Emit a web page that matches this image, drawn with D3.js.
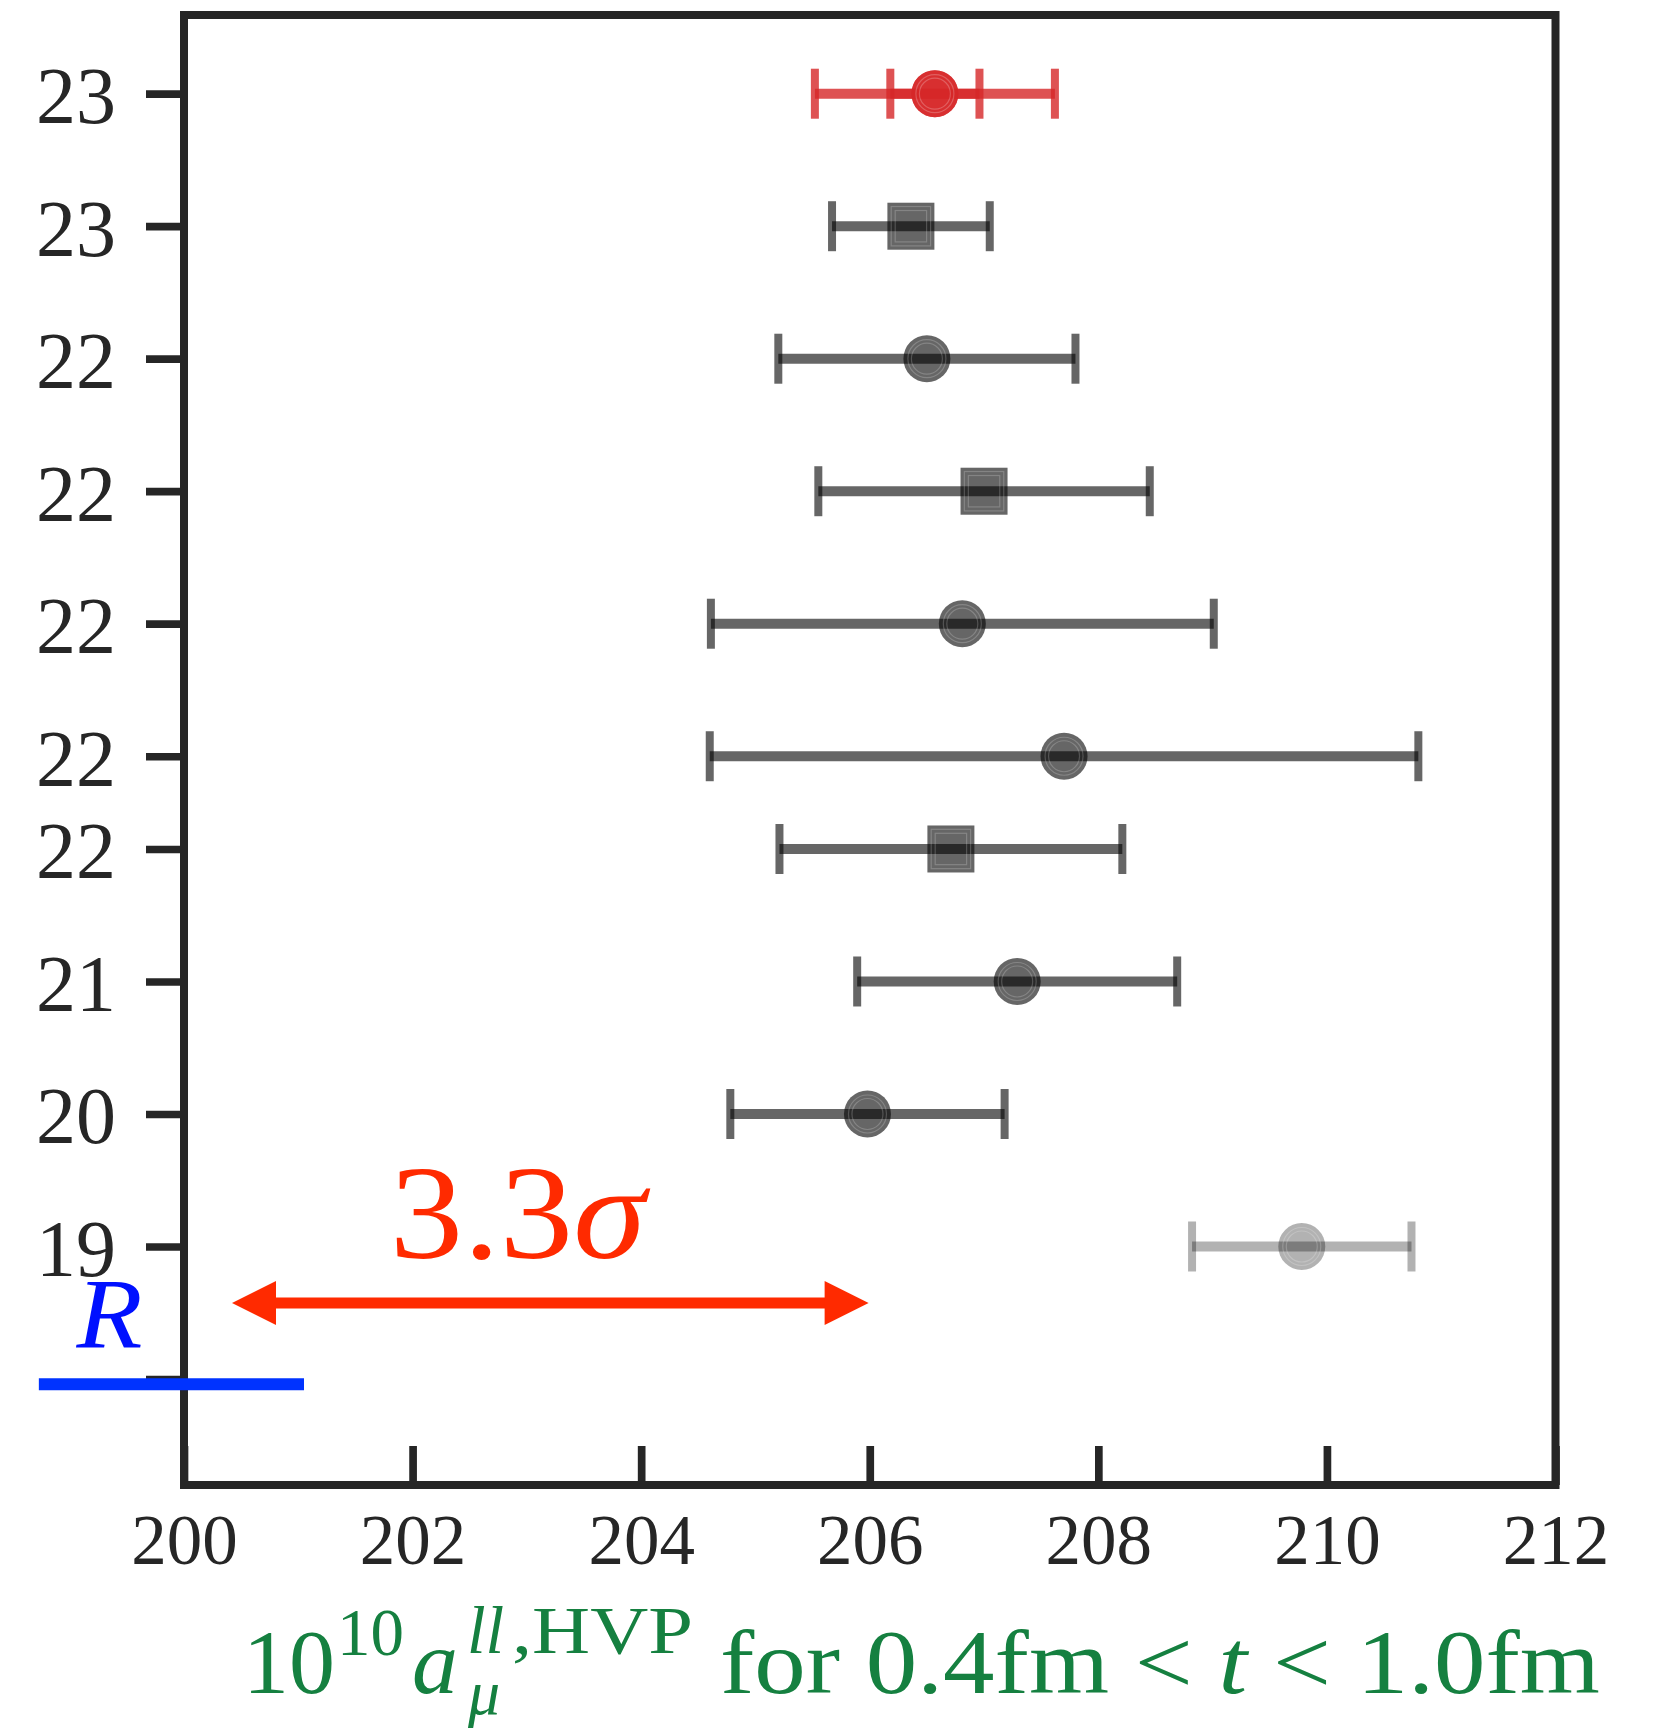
<!DOCTYPE html>
<html><head><meta charset="utf-8">
<script src="https://cdn.jsdelivr.net/npm/d3@7"></script>
<style>
body{margin:0;background:#fff}
svg{display:block}
text{font-family:"Liberation Serif","DejaVu Serif",serif}
</style>
</head><body><div id="chart"></div>
<script>
// ---------- data ----------
const tickLabels    = ["23","23","22","22","22","22","22","21","20","19",""];
const tickPositions = [9.7, 8.7, 7.7, 6.7, 5.7, 4.7, 4.0, 3.0, 2.0, 1.0, 0];
const centers     = [206.57, 206.36, 206.50, 207.00, 206.81, 207.70, 206.71, 207.29, 205.98, 209.78];
const totalErrors = [1.05,   0.69,   1.30,   1.45,   2.20,   3.10,   1.50,   1.40,   1.20,   0.96];
const statErrors  = [0.39,   null,   null,   null,   null,   null,   null,   null,   null,   null];
const markerTypes = ["circle","square","circle","square","circle","circle","square","circle","circle","circle"];
const groups      = ["new","lattice","lattice","lattice","lattice","lattice","lattice","lattice","lattice","old"];
const xTicks = [200, 202, 204, 206, 208, 210, 212];
const xDomain = [200, 212];
const yDomain = [-0.8, 10.294];
const rBand = [198.73, 201.05];
const rBandPos = -0.04;
const rLabel = "R";
const rLabelPos = [199.06, 0.24];
const arrowEnds = [200.42, 205.99];
const arrowPos = 0.574;
const sigmaValue = "3.3";
const sigmaLabelPos = [201.8, 0.913];

// ---------- styles ----------
const W = 1661, H = 1731;
const groupStyle = {
  new:     {color:"#d62728", alpha:0.8},
  lattice: {color:"#000000", alpha:0.6},
  old:     {color:"#000000", alpha:0.3}
};
const axisColor = "#262626";
const arrowColor = "#ff2a00";
const blue = "#0033ff";
const green = "#158040";

const svg = d3.select("#chart").append("svg").attr("width", W).attr("height", H);

const x = d3.scaleLinear().domain(xDomain).range([184, 1555.5]);
const y = d3.scaleLinear().domain(yDomain).range([1485, 15]);

// ---------- axes ----------
const gx = svg.append("g")
  .attr("transform", `translate(0,${y.range()[0]})`)
  .call(d3.axisBottom(x).tickValues(xTicks).tickFormat(d3.format("d"))
        .tickSizeInner(-39).tickSizeOuter(0));
gx.attr("font-family", '"Liberation Serif", serif').attr("font-size", 71);
gx.select(".domain").remove();
gx.selectAll(".tick line").attr("stroke", axisColor).attr("stroke-width", 7.7);
gx.selectAll(".tick text").attr("y", 79).attr("dy", null).attr("fill", axisColor);

const gy = svg.append("g")
  .attr("transform", `translate(${x.range()[0]},0)`)
  .call(d3.axisLeft(y).tickValues(tickPositions).tickFormat((d, i) => tickLabels[i])
        .tickSizeInner(38).tickSizeOuter(0).tickPadding(30));
gy.attr("font-family", '"Liberation Serif", serif').attr("font-size", 80);
gy.select(".domain").remove();
gy.selectAll(".tick line").attr("stroke", axisColor).attr("stroke-width", 7.7);
gy.selectAll(".tick text").attr("dy", "0.36em").attr("fill", axisColor);

// ---------- data marks ----------
const rows = centers.map((c, i) => ({
  c, tot: totalErrors[i], stat: statErrors[i], m: markerTypes[i],
  pos: tickPositions[i], st: groupStyle[groups[i]]
}));

const marks = svg.append("g");
const capHalf = 25, mSize = 47;

function marker(g, d) {
  const cx = x(d.c), cy = y(d.pos);
  if (d.m === "circle") {
    g.append("circle").attr("cx", cx).attr("cy", cy).attr("r", mSize / 2)
      .attr("fill", d.st.color).attr("fill-opacity", d.st.alpha);
    [19, 15.5].forEach(r => g.append("circle").attr("cx", cx).attr("cy", cy).attr("r", r)
      .attr("fill", "none").attr("stroke", "#fff").attr("stroke-opacity", 0.2).attr("stroke-width", 1.2));
  } else {
    g.append("rect").attr("x", cx - mSize / 2).attr("y", cy - mSize / 2)
      .attr("width", mSize).attr("height", mSize)
      .attr("fill", d.st.color).attr("fill-opacity", d.st.alpha);
    [19.7, 15.7].forEach(h => g.append("rect").attr("x", cx - h).attr("y", cy - h)
      .attr("width", 2 * h).attr("height", 2 * h)
      .attr("fill", "none").attr("stroke", "#fff").attr("stroke-opacity", 0.2).attr("stroke-width", 1.2));
  }
}

function errbar(g, d, err) {
  const yy = y(d.pos);
  g.append("line")
    .attr("x1", x(d.c - err)).attr("x2", x(d.c + err))
    .attr("y1", yy).attr("y2", yy)
    .attr("stroke", d.st.color).attr("stroke-opacity", d.st.alpha).attr("stroke-width", 10);
  [d.c - err, d.c + err].forEach(v => {
    g.append("line")
      .attr("x1", x(v)).attr("x2", x(v))
      .attr("y1", yy - capHalf).attr("y2", yy + capHalf)
      .attr("stroke", d.st.color).attr("stroke-opacity", d.st.alpha).attr("stroke-width", 8);
  });
  marker(g, d);
}

rows.forEach(d => {
  const g = marks.append("g");
  errbar(g, d, d.tot);
  if (d.stat != null) errbar(g, d, d.stat);
});

// ---------- frame ----------
svg.append("rect")
  .attr("x", x.range()[0]).attr("y", y.range()[1])
  .attr("width", x.range()[1] - x.range()[0]).attr("height", y.range()[0] - y.range()[1])
  .attr("fill", "none").attr("stroke", axisColor).attr("stroke-width", 8);

// ---------- R band ----------
svg.append("line")
  .attr("x1", x(rBand[0])).attr("x2", x(rBand[1]))
  .attr("y1", y(rBandPos)).attr("y2", y(rBandPos))
  .attr("stroke", blue).attr("stroke-width", 12);
svg.append("text")
  .attr("x", x(rLabelPos[0])).attr("y", y(rLabelPos[1]))
  .attr("font-size", 100).attr("font-style", "italic").attr("fill", "#0010ff")
  .attr("textLength", 66).attr("lengthAdjust", "spacingAndGlyphs")
  .text(rLabel);

// ---------- arrow ----------
const ax0 = x(arrowEnds[0]), ax1 = x(arrowEnds[1]), ay = y(arrowPos);
const headL = 44, headW = 22;
svg.append("line")
  .attr("x1", ax0 + headL - 2).attr("x2", ax1 - headL + 2)
  .attr("y1", ay).attr("y2", ay)
  .attr("stroke", arrowColor).attr("stroke-width", 11);
svg.append("path")
  .attr("d", `M${ax0},${ay} L${ax0 + headL},${ay - headW} L${ax0 + headL},${ay + headW} Z`)
  .attr("fill", arrowColor);
svg.append("path")
  .attr("d", `M${ax1},${ay} L${ax1 - headL},${ay - headW} L${ax1 - headL},${ay + headW} Z`)
  .attr("fill", arrowColor);
const sig = svg.append("text")
  .attr("x", x(sigmaLabelPos[0])).attr("y", y(sigmaLabelPos[1]))
  .attr("font-size", 134).attr("fill", arrowColor)
  .attr("textLength", 256).attr("lengthAdjust", "spacingAndGlyphs");
sig.append("tspan").text(sigmaValue);
sig.append("tspan").attr("font-style", "italic").text("σ");

// ---------- x label ----------
const lab = svg.append("g").attr("fill", green);
lab.append("text").attr("x", 243).attr("y", 1693).attr("font-size", 92).text("10");
lab.append("text").attr("x", 337).attr("y", 1655).attr("font-size", 67).text("10");
lab.append("text").attr("x", 412).attr("y", 1693).attr("font-size", 92).attr("font-style", "italic").text("a");
lab.append("text").attr("x", 467).attr("y", 1653).attr("font-size", 67).attr("font-style", "italic").text("ll");
lab.append("text").attr("x", 512).attr("y", 1653).attr("font-size", 67)
  .attr("textLength", 181).attr("lengthAdjust", "spacingAndGlyphs").text(",HVP");
lab.append("text").attr("x", 468).attr("y", 1714).attr("font-size", 64).attr("font-style", "italic").text("μ");
const main = lab.append("text").attr("x", 720).attr("y", 1693).attr("font-size", 92)
  .attr("textLength", 880).attr("lengthAdjust", "spacingAndGlyphs");
main.append("tspan").text("for 0.4fm < ");
main.append("tspan").attr("font-style", "italic").text("t");
main.append("tspan").text(" < 1.0fm");
</script>
</body></html>
